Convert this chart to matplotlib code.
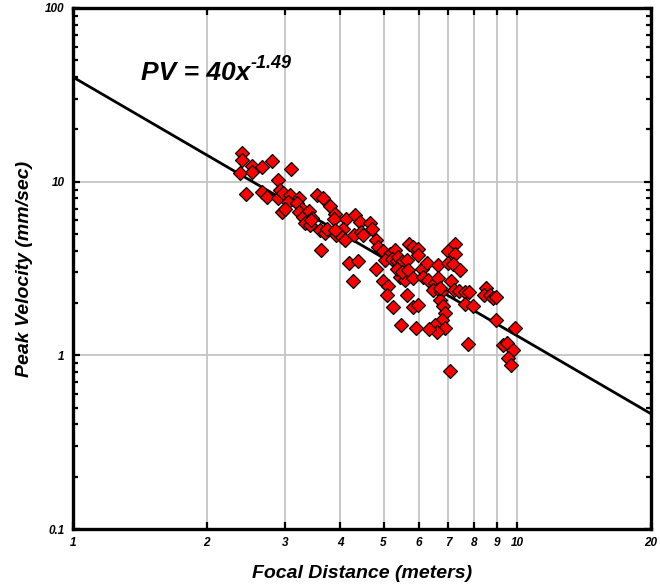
import matplotlib
matplotlib.use("Agg")
import matplotlib.pyplot as plt
import numpy as np
from matplotlib.ticker import FixedLocator, NullLocator, LogLocator, NullFormatter, FixedFormatter

# ---- data ----
distance = [2.40, 2.40, 2.38, 2.53, 2.53, 2.66, 2.81, 3.09, 2.90, 2.45,
            2.67, 2.74, 2.89, 2.93, 2.97, 3.08, 3.05, 2.95, 3.00, 3.23,
            3.19, 3.27, 3.22, 3.30, 3.40, 3.46, 3.33, 3.42, 3.55, 3.65,
            3.60, 3.70, 3.61, 3.78,
            3.89, 3.86, 4.11, 4.32, 4.43, 4.67, 4.71, 3.73, 3.91, 4.05,
            4.03, 4.10, 4.30, 4.44, 4.49, 4.82, 4.86, 4.99, 5.17, 5.31,
            5.04, 5.22, 5.36, 5.50, 5.64, 5.72, 4.17, 4.37, 4.80, 4.26,
            4.99, 5.13, 5.45, 5.58,
            5.84, 5.99, 5.97, 5.40, 5.50, 5.64, 5.36, 5.50, 5.69, 5.84,
            6.09, 6.25, 6.63, 7.25, 6.98, 7.25, 7.00, 7.17, 7.44, 6.14,
            6.30, 6.52, 6.63, 7.11, 6.46, 6.74, 7.20, 7.38, 7.64, 6.71,
            6.82, 7.64, 7.93, 5.64, 5.84, 5.99, 6.88, 6.76, 6.54, 6.88,
            6.59, 6.32, 5.48, 5.91, 7.76,
            7.80, 8.52, 8.41, 8.69, 8.84, 8.96, 8.96, 9.90, 9.30, 9.50,
            9.80, 9.55, 9.66, 5.09, 5.24, 7.07, 6.71, 3.89, 3.43]
peak_velocity = [14.7, 13.3, 11.2, 12.3, 11.4, 12.2, 13.1, 11.9, 10.2, 8.5,
                 8.7, 8.2, 8.0, 9.0, 8.6, 8.4, 7.6, 6.7, 6.95, 8.0,
                 7.5, 6.95, 6.7, 6.3, 6.8, 6.2, 5.8, 5.6, 8.4, 8.0,
                 5.3, 5.05, 4.05, 7.2,
                 6.5, 6.1, 6.1, 6.4, 5.85, 5.75, 5.35, 5.35, 4.9, 5.35,
                 4.8, 4.6, 4.93, 5.15, 4.93, 4.6, 4.2, 3.98, 3.85, 4.05,
                 3.54, 3.6, 3.48, 3.2, 3.0, 4.4, 3.4, 3.48, 3.13, 2.67,
                 2.67, 2.5, 2.83, 2.72,
                 4.2, 4.1, 3.8, 3.68, 3.43, 3.54, 3.15, 3.0, 3.1, 2.8,
                 3.15, 3.42, 3.3, 4.35, 4.0, 3.85, 3.42, 3.35, 3.08, 2.83,
                 2.72, 2.6, 2.78, 2.68, 2.38, 2.33, 2.38, 2.36, 2.33, 2.08,
                 1.92, 1.98, 1.92, 2.23, 1.91, 1.95, 1.75, 1.59, 1.5, 1.43,
                 1.37, 1.41, 1.5, 1.43, 1.16,
                 2.31, 2.43, 2.23, 2.23, 2.13, 2.18, 1.60, 1.43, 1.15, 1.18,
                 1.08, 0.96, 0.88, 2.23, 1.9, 0.81, 2.45, 5.25, 6.0]

fit_coef = 40.0
fit_exp = -1.49
fit_x = [1, 20]

x_ticks = [1, 2, 3, 4, 5, 6, 7, 8, 9, 10, 20]
x_tick_labels = ["1", "2", "3", "4", "5", "6", "7", "8", "9", "10", "20"]
x_grid = [2, 3, 4, 5, 6, 7, 8, 9, 10]
y_ticks = [0.1, 1, 10, 100]
y_tick_labels = ["0.1", "1", "10", "100"]
y_grid = [1, 10]

FONT = "Liberation Sans"
fkw = dict(family=FONT, weight="bold", style="italic")

fig = plt.figure(figsize=(6.6, 5.87), dpi=100)
ax = fig.add_axes([73/660, 1-529/587, (651-73)/660, (529-8)/587])
ax.set_xscale("log")
ax.set_yscale("log")
ax.set_xlim(1, 20)
ax.set_ylim(0.1, 100)

for gx in x_grid:
    ax.axvline(gx, color="#c4c4c4", lw=1.3, zorder=1)
for gy in y_grid:
    ax.axhline(gy, color="#c4c4c4", lw=1.3, zorder=1)

fx = np.array(fit_x, dtype=float)
ax.plot(fx, fit_coef * fx ** fit_exp, color="black", lw=2.0, zorder=2,
        solid_capstyle="butt")

ax.plot(distance, peak_velocity, linestyle="none", marker="D", ms=7.0,
        mfc="#ff0000", mec="black", mew=0.9, zorder=3, clip_on=False)

ax.xaxis.set_major_locator(FixedLocator(x_ticks))
ax.xaxis.set_major_formatter(FixedFormatter(x_tick_labels))
ax.xaxis.set_minor_locator(NullLocator())
ax.yaxis.set_major_locator(FixedLocator(y_ticks))
ax.yaxis.set_major_formatter(FixedFormatter(y_tick_labels))
ax.yaxis.set_minor_locator(LogLocator(base=10, subs=np.arange(2, 10), numticks=20))
ax.yaxis.set_minor_formatter(NullFormatter())

ax.tick_params(which="both", direction="in", top=True, right=True, width=1.6, color="black")
ax.tick_params(which="major", length=5, pad=6)
ax.tick_params(which="minor", length=3.5)
for lab in ax.get_xticklabels() + ax.get_yticklabels():
    lab.set_fontfamily(FONT)
    lab.set_fontweight("bold")
    lab.set_fontstyle("italic")
    lab.set_fontsize(8.5)

for sp in ax.spines.values():
    sp.set_linewidth(2.4)
    sp.set_zorder(5)

ax.set_xlabel("Focal Distance (meters)", fontsize=14, labelpad=11, **fkw)
ax.set_ylabel("Peak Velocity (mm/sec)", fontsize=14, labelpad=9, **fkw)

main = ax.text(1.42, 38.5, "PV = 40x", fontsize=19, va="baseline", ha="left",
               zorder=6, **fkw)
ax.annotate("-1.49", xy=(1, 1), xycoords=main, xytext=(0.5, 4.5),
            textcoords="offset points", fontsize=13, va="top", ha="left", **fkw)

fig.savefig("out.png", dpi=100)
